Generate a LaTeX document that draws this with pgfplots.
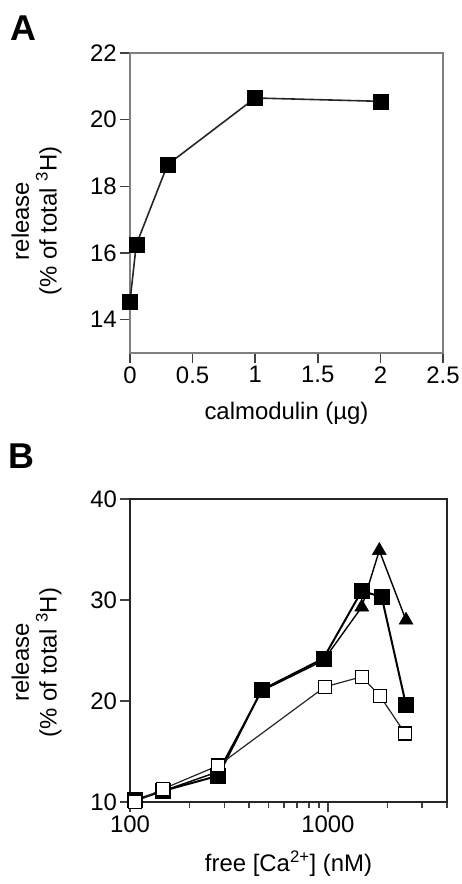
\documentclass[border=0pt]{standalone}
\usepackage{pgfplots}
\pgfplotsset{compat=1.18}
\usepackage{fontspec}
\setmainfont{Liberation Sans}
\setsansfont{Liberation Sans}
\begin{document}
\begin{tikzpicture}
\useasboundingbox (0,0) rectangle (462bp,884bp);
\pgfplotsset{
  every axis/.append style={
    scale only axis,
    anchor=south west,
    font=\fontsize{24}{28}\selectfont,
    /pgf/number format/assume math mode=true,
    tick align=outside,
    tick pos=left,
    major tick length=10bp,
    minor tick length=6bp,
    every tick/.style={line width=1.6bp, black!75},
    yticklabel style={inner xsep=3bp},
    ylabel style={align=center},
    ylabel shift=22bp,
    xlabel shift=12bp,
  }
}
\node[font=\fontsize{36}{40}\selectfont\bfseries] at (23bp,856bp) {A};
\node[font=\fontsize{36}{40}\selectfont\bfseries] at (21bp,428bp) {B};

\begin{axis}[
  at={(130bp,531bp)},
  width=313bp, height=300bp,
  xmin=0, xmax=2.5, ymin=13, ymax=22,
  xtick={0,0.5,1,1.5,2,2.5},
  xticklabels={0,0.5,1,1.5,2,2.5},
  ytick={14,16,18,20,22},
  axis line style={line width=2bp, black!50},
  xlabel={calmodulin (µg)},
  ylabel={release\\(\% of total \textsuperscript{3}H)},
  every axis y label/.append style={at={(ticklabel cs:0.44)}},
]
\addplot[black!85, line width=1.6bp, mark=square*, mark size=7.5bp, mark options={fill=black, draw=black, line width=0.5bp}]
  coordinates {(0,14.55) (0.05,16.25) (0.3,18.65) (1,20.65) (2,20.55)};
\end{axis}

\begin{axis}[
  at={(130bp,82bp)},
  width=317bp, height=303bp,
  xmode=log,
  xmin=100, xmax=4000, ymin=10, ymax=40,
  xtick={100,1000},
  xticklabels={100,1000},
  minor xtick={200,300,400,500,600,700,800,900,2000,3000,4000},
  ytick={10,20,30,40},
  axis line style={line width=2bp, black!85},
  xlabel={free [Ca\textsuperscript{2+}] (nM)},
  ylabel={release\\(\% of total \textsuperscript{3}H)},
  every axis y label/.append style={at={(ticklabel cs:0.46)}},
]
\addplot[black, line width=1.4bp, mark=triangle*, mark size=8bp, mark options={fill=black, draw=black, line width=0.5bp}]
  coordinates {(106,10.1) (147,11.1) (279,13.0) (463,21.0) (948,24.0) (1483,29.3) (1820,34.9) (2483,28.0)};
\addplot[black, line width=2bp, mark=square*, mark size=7.5bp, mark options={fill=black, draw=black, line width=0.5bp}]
  coordinates {(106,10.2) (147,11.1) (279,12.6) (463,21.1) (948,24.2) (1483,30.9) (1871,30.3) (2483,19.6)};
\addplot[black!85, line width=1.2bp, mark=square*, mark size=6.5bp, mark options={fill=white, draw=black, line width=1.4bp}]
  coordinates {(106,10.0) (147,11.3) (279,13.6) (966,21.4) (1483,22.4) (1833,20.5) (2455,16.8)};
\end{axis}
\end{tikzpicture}
\end{document}
